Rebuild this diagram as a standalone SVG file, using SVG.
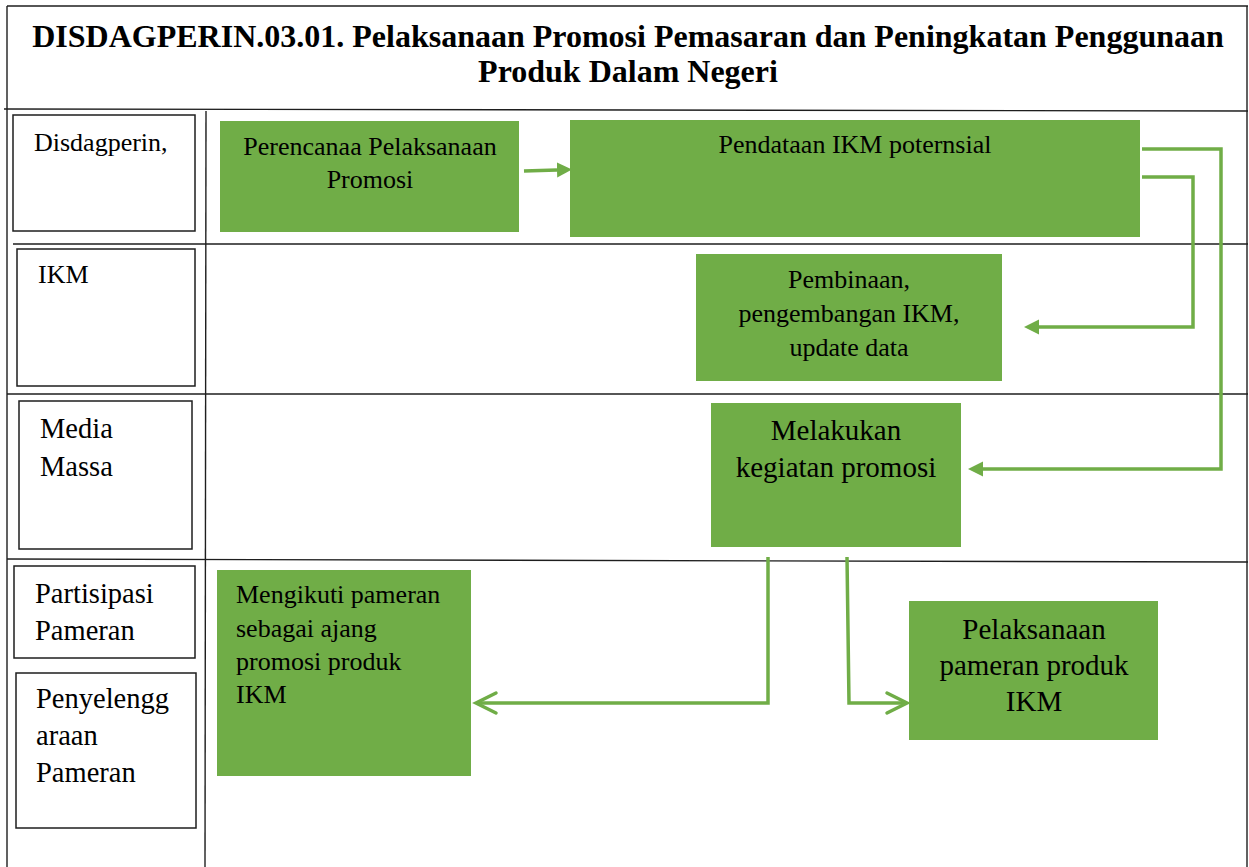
<svg xmlns="http://www.w3.org/2000/svg" width="1249" height="867" viewBox="0 0 1249 867">
  <style>
    .frame { fill: none; stroke: #1e1e1e; stroke-width: 1.4; }
    .lane-label { fill: #ffffff; stroke: #1e1e1e; stroke-width: 1.5; }
    .step { fill: #70ad47; }
    .txt { font-family: "Liberation Serif", "Times New Roman", serif; fill: #000000; }
    .title { font-weight: bold; font-size: 32px; }
    .flow { fill: none; stroke: #70ad47; stroke-width: 3.5; }
  </style>
  <defs>
    <marker id="solid-head" markerUnits="userSpaceOnUse" markerWidth="16" markerHeight="16" viewBox="0 0 16 16" refX="0" refY="7.5" orient="auto">
      <path d="M0,0 L15,7.5 L0,15 z" fill="#70ad47"/>
    </marker>
    <marker id="open-head" markerUnits="userSpaceOnUse" markerWidth="30" markerHeight="30" viewBox="-24 -15 30 30" refX="0" refY="0" orient="auto">
      <path d="M-20,-10 L0,0 L-20,10" fill="none" stroke="#70ad47" stroke-width="3.5" stroke-linecap="round" stroke-linejoin="miter"/>
    </marker>
  </defs>

  <rect width="1249" height="867" fill="#ffffff"/>

  <!-- table frame and swimlane rules -->
  <g id="table">
    <line class="frame" x1="7" y1="6" x2="1248" y2="6"/>
    <line class="frame" x1="7" y1="6" x2="7" y2="867"/>
    <line class="frame" x1="1247" y1="6" x2="1247" y2="867"/>
    <line class="frame" x1="4" y1="109" x2="1248" y2="111"/>
    <line class="frame" x1="206" y1="111" x2="205" y2="867"/>
    <line class="frame" x1="13" y1="244" x2="1248" y2="244"/>
    <line class="frame" x1="7" y1="394" x2="1248" y2="394"/>
    <line class="frame" x1="7" y1="559" x2="1248" y2="562"/>
  </g>

  <g id="title">
    <text class="txt title" x="628" y="47" text-anchor="middle">DISDAGPERIN.03.01. Pelaksanaan Promosi Pemasaran dan Peningkatan Penggunaan</text>
    <text class="txt title" x="628" y="82" text-anchor="middle">Produk Dalam Negeri</text>
  </g>

  <!-- lane labels -->
  <g id="lane-disdagperin">
    <rect class="lane-label" x="13" y="115" width="182" height="116"/>
    <text class="txt" x="34" y="151" font-size="26">Disdagperin,</text>
  </g>
  <g id="lane-ikm">
    <rect class="lane-label" x="17" y="249" width="178" height="137"/>
    <text class="txt" x="38" y="283" font-size="26">IKM</text>
  </g>
  <g id="lane-media">
    <rect class="lane-label" x="19" y="401" width="173" height="148"/>
    <text class="txt" x="40" y="438" font-size="28.5">Media</text>
    <text class="txt" x="40" y="476" font-size="28.5">Massa</text>
  </g>
  <g id="lane-partisipasi">
    <rect class="lane-label" x="14" y="566" width="181" height="92"/>
    <text class="txt" x="35" y="603" font-size="28.5">Partisipasi</text>
    <text class="txt" x="35" y="640" font-size="28.5">Pameran</text>
  </g>
  <g id="lane-penyelenggaraan">
    <rect class="lane-label" x="16" y="673" width="180" height="155"/>
    <text class="txt" x="36" y="708" font-size="28.5">Penyelengg</text>
    <text class="txt" x="36" y="745" font-size="28.5">araan</text>
    <text class="txt" x="36" y="782" font-size="28.5">Pameran</text>
  </g>

  <!-- process steps -->
  <g id="step-perencanaan">
    <rect class="step" x="220" y="121" width="299" height="111"/>
    <text class="txt" x="370" y="155" font-size="26" text-anchor="middle">Perencanaa Pelaksanaan</text>
    <text class="txt" x="370" y="188" font-size="26" text-anchor="middle">Promosi</text>
  </g>
  <g id="step-pendataan">
    <rect class="step" x="570" y="120" width="570" height="117"/>
    <text class="txt" x="855" y="153" font-size="26" text-anchor="middle">Pendataan IKM poternsial</text>
  </g>
  <g id="step-pembinaan">
    <rect class="step" x="696" y="254" width="306" height="127"/>
    <text class="txt" x="849" y="288" font-size="26" text-anchor="middle">Pembinaan,</text>
    <text class="txt" x="849" y="322" font-size="26" text-anchor="middle">pengembangan IKM,</text>
    <text class="txt" x="849" y="356" font-size="26" text-anchor="middle">update data</text>
  </g>
  <g id="step-promosi">
    <rect class="step" x="711" y="403" width="250" height="144"/>
    <text class="txt" x="836" y="440" font-size="29" text-anchor="middle">Melakukan</text>
    <text class="txt" x="836" y="477" font-size="29" text-anchor="middle">kegiatan promosi</text>
  </g>
  <g id="step-mengikuti">
    <rect class="step" x="217" y="570" width="254" height="206"/>
    <text class="txt" x="236" y="603" font-size="26">Mengikuti pameran</text>
    <text class="txt" x="236" y="637" font-size="26">sebagai ajang</text>
    <text class="txt" x="236" y="670" font-size="26">promosi produk</text>
    <text class="txt" x="236" y="703" font-size="26">IKM</text>
  </g>
  <g id="step-pameran">
    <rect class="step" x="909" y="601" width="249" height="139"/>
    <text class="txt" x="1034" y="639" font-size="29" text-anchor="middle">Pelaksanaan</text>
    <text class="txt" x="1034" y="675" font-size="29" text-anchor="middle">pameran produk</text>
    <text class="txt" x="1034" y="711" font-size="29" text-anchor="middle">IKM</text>
  </g>

  <!-- connectors -->
  <g id="connectors">
    <path class="flow" d="M524,171 L557,170" marker-end="url(#solid-head)"/>
    <path class="flow" d="M1142,149 H1221 V469 H983" marker-end="url(#solid-head)"/>
    <path class="flow" d="M1142,177 H1193 V327 H1039" marker-end="url(#solid-head)"/>
    <path class="flow" d="M768,557 V703 H476" marker-end="url(#open-head)"/>
    <path class="flow" d="M847,557 L849,703 H907" marker-end="url(#open-head)"/>
  </g>
</svg>
